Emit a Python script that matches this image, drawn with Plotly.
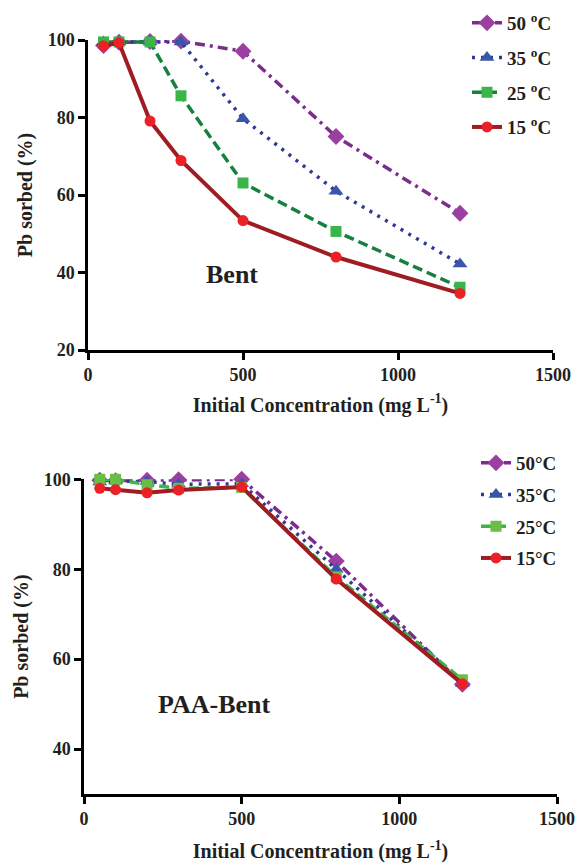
import plotly.graph_objects as go

conc = [50, 100, 200, 300, 500, 800, 1200]

temps = ["50", "35", "25", "15"]

bent_50 = [98.6, 99.4, 99.6, 99.7, 97.1, 75.1, 55.3]
bent_35 = [99.5, 99.5, 99.5, 99.5, 79.7, 61.0, 42.2]
bent_25 = [99.5, 99.5, 99.5, 85.6, 63.1, 50.6, 36.2]
bent_15 = [98.5, 99.3, 79.1, 68.9, 53.4, 44.0, 34.6]

paa_50 = [99.8, 99.7, 99.8, 99.9, 100.0, 81.8, 54.4]
paa_35 = [99.4, 99.6, 99.5, 98.9, 99.0, 80.0, 54.6]
paa_25 = [100.0, 100.0, 98.8, 98.0, 98.2, 78.3, 55.4]
paa_15 = [98.0, 97.7, 97.0, 97.6, 98.3, 77.8, 54.5]

x_ticks = [0, 500, 1000, 1500]

FONT = "Liberation Serif"
INK = "#231f20"

styles_top = {
    "50": dict(line=dict(color="#7B2D8E", width=3.5, dash="10px,5px,3px,5px"),
               marker=dict(symbol="diamond", size=13, color="#9B3FA0")),
    "35": dict(line=dict(color="#2E3A97", width=3.5, dash="3px,6px"),
               marker=dict(symbol="triangle-up", size=13, color="#3A56A8")),
    "25": dict(line=dict(color="#16803F", width=3.5, dash="10px,5px"),
               marker=dict(symbol="square", size=11, color="#3AB54A")),
    "15": dict(line=dict(color="#9E1C22", width=4),
               marker=dict(symbol="circle", size=11, color="#EC2027")),
}
styles_bot = {
    "50": dict(line=dict(color="#7E2B8F", width=3.5, dash="10px,5px,3px,5px"),
               marker=dict(symbol="diamond", size=13, color="#9B3FA0")),
    "35": dict(line=dict(color="#2E3A97", width=3.5, dash="3px,6px"),
               marker=dict(symbol="triangle-up", size=13, color="#3A56A8")),
    "25": dict(line=dict(color="#3DB54A", width=3.5, dash="10px,5px"),
               marker=dict(symbol="square", size=11, color="#6ABD45")),
    "15": dict(line=dict(color="#9E1C22", width=4),
               marker=dict(symbol="circle", size=11, color="#EC2027")),
}

top_vals = {"50": bent_50, "35": bent_35, "25": bent_25, "15": bent_15}
bot_vals = {"50": paa_50, "35": paa_35, "25": paa_25, "15": paa_15}

fig = go.Figure()

for t in temps:
    fig.add_trace(go.Scatter(
        x=conc, y=top_vals[t], mode="lines+markers",
        name=f"{t} <sup>o</sup>C", legend="legend", legendgroup="a" + t,
        xaxis="x", yaxis="y", cliponaxis=False, **styles_top[t]))

for t in temps:
    fig.add_trace(go.Scatter(
        x=conc, y=bot_vals[t], mode="lines+markers",
        name=f"{t}°C", legend="legend2", legendgroup="b" + t,
        xaxis="x2", yaxis="y2", cliponaxis=False, **styles_bot[t]))

axis_common = dict(
    showline=True, linecolor="black", linewidth=2.5,
    ticks="outside", ticklen=7, tickwidth=2.5, tickcolor="black",
    showgrid=False, zeroline=False, automargin=False,
    tickfont=dict(family=FONT, size=18, color=INK, weight="bold"),
)

ytitle = dict(text="Pb sorbed (%)", font=dict(family=FONT, size=20, color=INK, weight="bold"), standoff=10)
xtitle = dict(text="Initial Concentration (mg L<sup>-1</sup>)", font=dict(family=FONT, size=20, color=INK, weight="bold"), standoff=14)

W, H = 576, 863

def xd(a, b):
    return [a / W, b / W]

def yd(top, bottom):
    return [1 - bottom / H, 1 - top / H]

legend_font = dict(family=FONT, size=19, color=INK, weight="bold")

fig.update_layout(
    width=W, height=H,
    margin=dict(l=0, r=0, t=0, b=0, autoexpand=False),
    paper_bgcolor="white", plot_bgcolor="white",
    showlegend=True,
    xaxis=dict(domain=xd(88, 553), range=[0, 1500], tickvals=x_ticks,
               anchor="y", title=xtitle, **axis_common),
    yaxis=dict(domain=yd(40, 350), range=[20, 100], dtick=20,
               anchor="x", title=ytitle, **axis_common),
    xaxis2=dict(domain=xd(84, 557), range=[0, 1500], tickvals=x_ticks,
                anchor="y2", title=dict(xtitle, standoff=18), **axis_common),
    yaxis2=dict(domain=yd(479.3, 794), range=[30, 100], tick0=0, dtick=20,
                anchor="x2", title=ytitle, **axis_common),
    legend=dict(x=467 / W, y=1 - 4 / H, xanchor="left", yanchor="top",
                bgcolor="rgba(0,0,0,0)", tracegroupgap=7, font=legend_font),
    legend2=dict(x=476 / W, y=1 - 444 / H, xanchor="left", yanchor="top",
                 bgcolor="rgba(0,0,0,0)", tracegroupgap=4, font=legend_font),
    annotations=[
        dict(x=463, y=39.4, xref="x", yref="y", text="<b>Bent</b>", showarrow=False,
             font=dict(family=FONT, size=26, color=INK)),
        dict(x=415, y=49.8, xref="x2", yref="y2", text="<b>PAA-Bent</b>", showarrow=False,
             font=dict(family=FONT, size=26, color=INK)),
    ],
)

fig.write_html("out.html", config={"displayModeBar": False},
               post_script="document.body.style.margin='0';")
